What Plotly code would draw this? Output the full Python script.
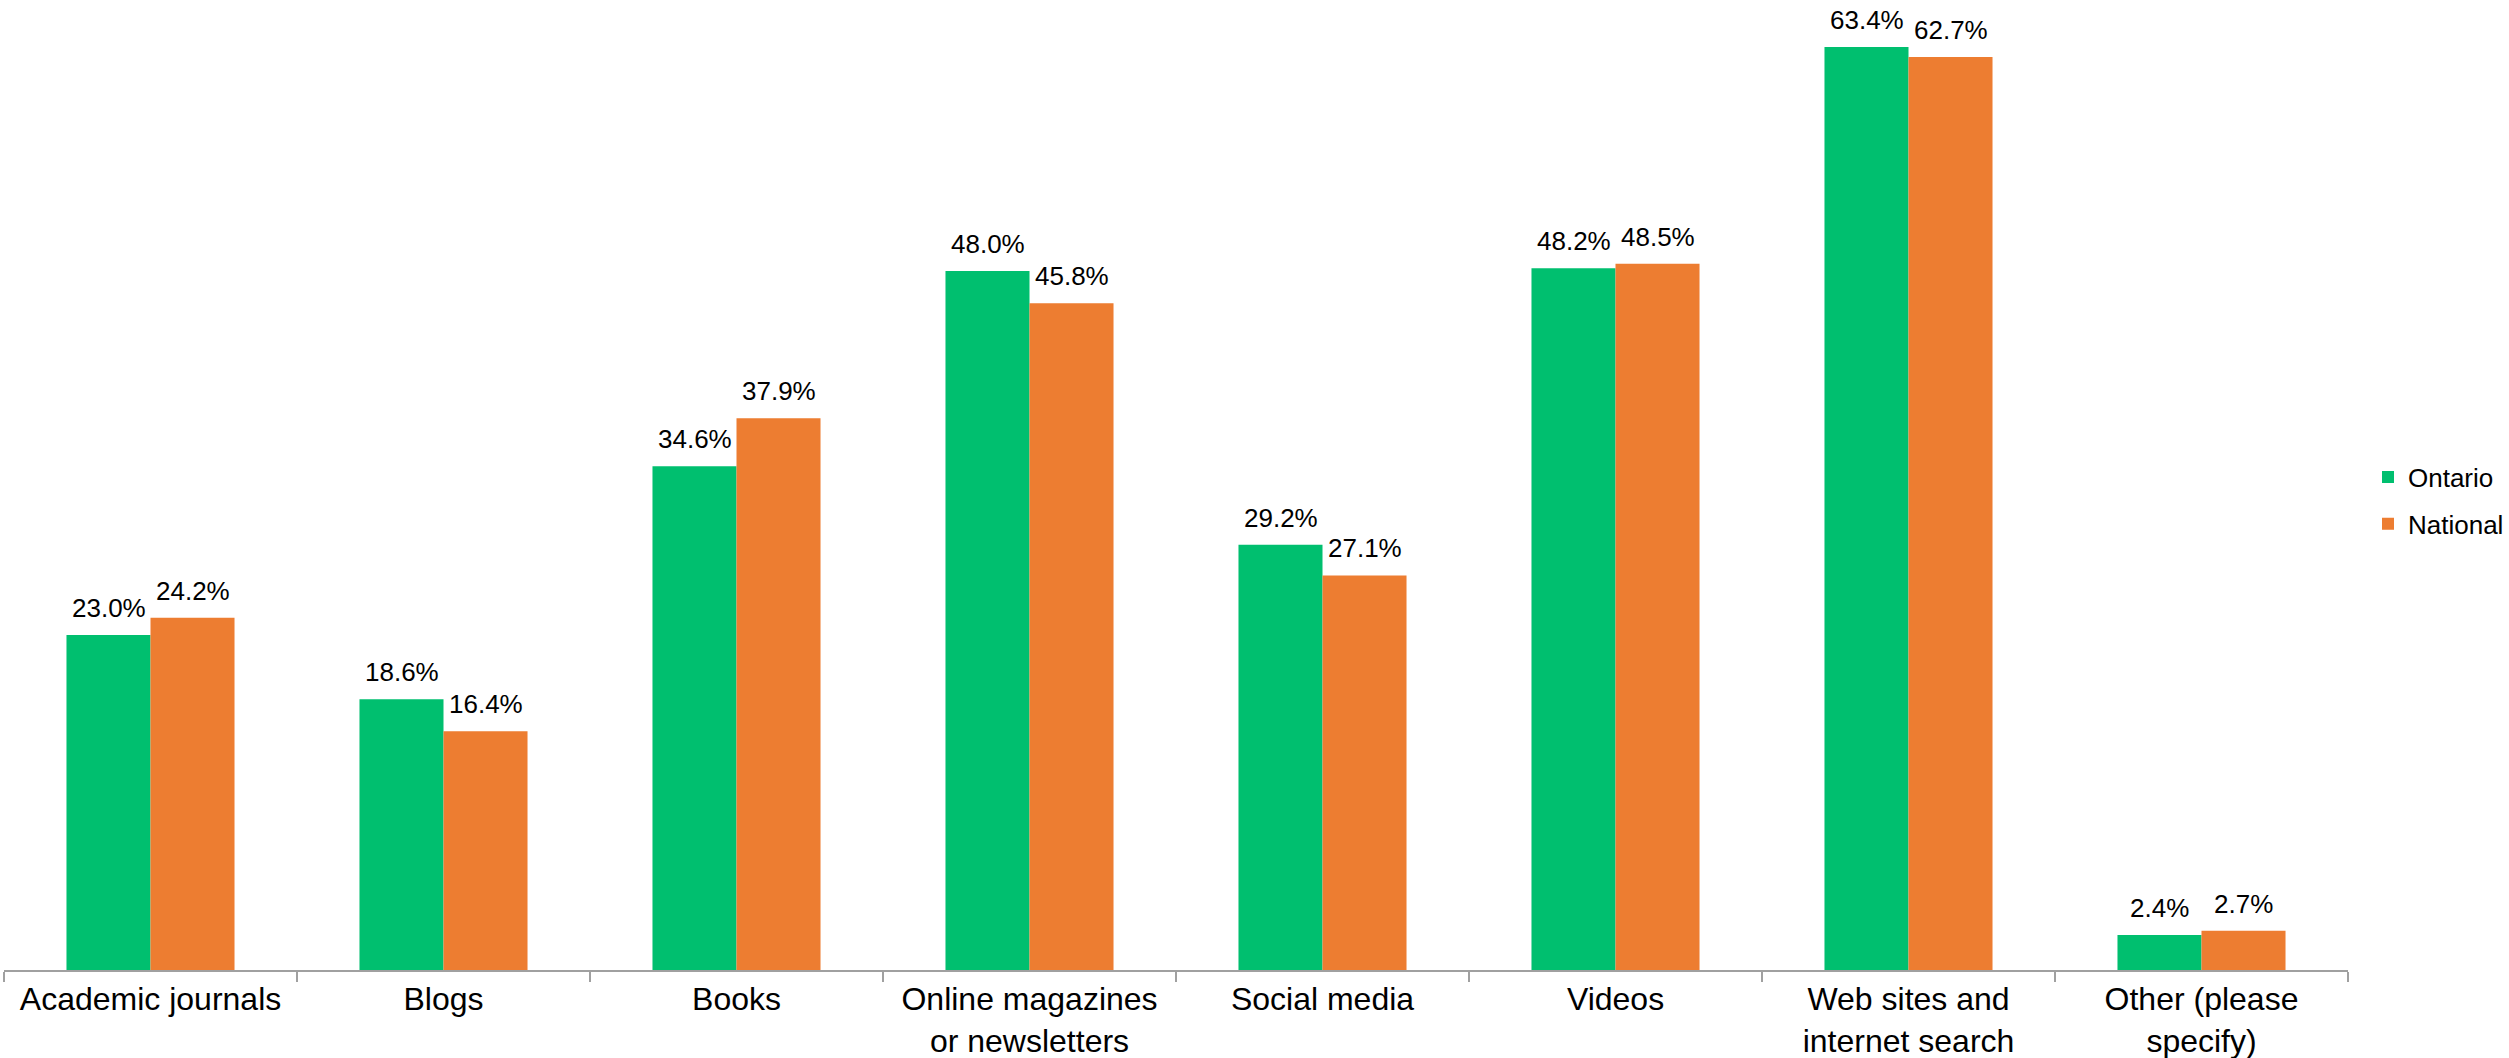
import plotly.graph_objects as go

# Survey responses: share of respondents using each information source
categories = [
    "Academic journals",
    "Blogs",
    "Books",
    "Online magazines<br>or newsletters",
    "Social media",
    "Videos",
    "Web sites and<br>internet search",
    "Other (please<br>specify)",
]
ontario = [23.0, 18.6, 34.6, 48.0, 29.2, 48.2, 63.4, 2.4]
national = [24.2, 16.4, 37.9, 45.8, 27.1, 48.5, 62.7, 2.7]

GREEN = "#00BF6F"
ORANGE = "#ED7D31"
FONT = "Liberation Sans, Arial, sans-serif"

W, H = 2509, 1058
ML, MR, MT, MB = 4, 161, 0, 88
PX_PER_PCT = 14.56
BAR_PX = 84
plot_h = H - MT - MB

series = [
    ("Ontario", ontario, GREEN, "a", -BAR_PX / 2),
    ("National", national, ORANGE, "b", BAR_PX / 2),
]

fig = go.Figure()
for name, vals, color, grp, _ in series:
    fig.add_trace(go.Bar(
        x=categories,
        y=vals,
        name=name,
        legendgroup=grp,
        marker=dict(color=color, line=dict(width=0)),
        cliponaxis=False,
    ))

# value labels above each bar
for name, vals, color, grp, dx in series:
    for cat, v in zip(categories, vals):
        fig.add_annotation(
            x=cat, y=v, xref="x", yref="y",
            text=f"{v:.1f}%",
            showarrow=False,
            xanchor="center", yanchor="bottom",
            xshift=dx, yshift=10,
            font=dict(family=FONT, size=26, color="black"),
        )

fig.update_layout(
    width=W,
    height=H,
    margin=dict(l=ML, r=MR, t=MT, b=MB, autoexpand=False),
    paper_bgcolor="white",
    plot_bgcolor="white",
    barmode="group",
    bargap=0.4265,
    bargroupgap=0,
    font=dict(family=FONT, size=26, color="black"),
    legend=dict(
        x=(2368 - ML) / (W - ML - MR),
        xanchor="left",
        y=(H - MB - 500.5) / plot_h,
        yanchor="middle",
        font=dict(family=FONT, size=26, color="black"),
        tracegroupgap=10,
        bgcolor="rgba(0,0,0,0)",
    ),
    xaxis=dict(
        showline=True,
        linecolor="#A0A0A0",
        linewidth=1.5,
        ticks="outside",
        tickson="boundaries",
        ticklen=10,
        tickcolor="#A0A0A0",
        tickwidth=1.5,
        tickfont=dict(family=FONT, size=32, color="black"),
        showgrid=False,
        automargin=False,
    ),
    yaxis=dict(
        range=[0, plot_h / PX_PER_PCT],
        visible=False,
        showgrid=False,
        zeroline=False,
    ),
)

fig.write_html("out.html")
